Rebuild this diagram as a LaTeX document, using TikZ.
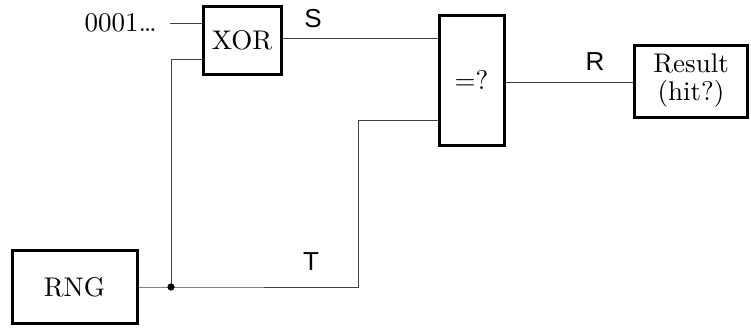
\documentclass[tikz,border=0pt]{standalone}
\usepackage{fontspec}
\newfontfamily\lblfont{Liberation Sans}
\newfontfamily\boxfont{lmroman10-regular}[Extension=.otf]
\begin{document}
\begin{tikzpicture}[x=1pt,y=-1pt,
  blk/.style={draw=black,line width=3pt,fill=white,inner sep=0pt},
  wire/.style={draw=black!75,line width=1pt},
  txt/.style={font=\boxfont\fontsize{27}{28}\selectfont},
  lbl/.style={font=\lblfont\fontsize{26}{28}\selectfont,inner sep=0pt}]
\useasboundingbox (0,0) rectangle (751,327);
% input text
\node[txt,anchor=east,inner sep=0pt] (in) at (157,23) {0001\ldots};
\coordinate (inA) at (170,23);
\coordinate (dot) at (171,287);
\coordinate (tc) at (358,287);
% wires (drawn first, boxes on top)
\draw[wire] (inA) -- (242,23);
\draw[wire] (dot) |- (242,59);
\draw[wire] (90,287) -- (dot) -- (tc) |- (471,120);
\draw[wire] (242,38) -- (471,38);
\draw[wire] (471,82) -- (691,82);
\fill (dot) circle (3.6pt);
% boxes
\node[blk,minimum width=78pt,minimum height=68pt,txt] (xor) at (242,40) {XOR};
\node[blk,minimum width=65pt,minimum height=130pt,txt] (cmp) at (471.5,80) {=?};
\node[blk,minimum width=113pt,minimum height=72pt,txt,align=center] (res) at (691,81) {Result\\(hit?)};
\node[blk,minimum width=125pt,minimum height=73pt,txt] (rng) at (74.5,287) {RNG};
% labels
\node[lbl] (S) at (313,19) {S};
\node[lbl] (R) at (595,62) {R};
\node[lbl] (T) at (311,262) {T};
\end{tikzpicture}
\end{document}
